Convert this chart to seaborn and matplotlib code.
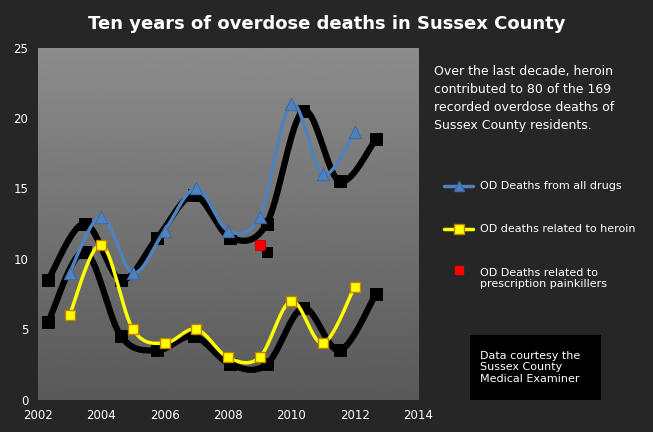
import numpy as np
import pandas as pd
import seaborn as sns
import matplotlib.pyplot as plt

years = [2003, 2004, 2005, 2006, 2007, 2008, 2009, 2010, 2011, 2012]
all_drugs = [9, 13, 9, 12, 15, 12, 13, 21, 16, 19]
heroin = [6, 11, 5, 4, 5, 3, 3, 7, 4, 8]
rx_year = [2009]
rx_deaths = [11]


def smooth(x, y, n=20):
    # catmull-rom curve through the points, like Excel's smoothed line
    x = np.asarray(x, float); y = np.asarray(y, float)
    px = np.r_[x[0], x, x[-1]]; py = np.r_[y[0], y, y[-1]]
    t = np.linspace(0, 1, n)[:, None]
    xs, ys = [], []
    for i in range(1, len(px) - 2):
        for p, out in ((px, xs), (py, ys)):
            p0, p1, p2, p3 = p[i - 1], p[i], p[i + 1], p[i + 2]
            out.append((0.5 * (2 * p1 + (-p0 + p2) * t + (2 * p0 - 5 * p1 + 4 * p2 - p3) * t**2
                               + (-p0 + 3 * p1 - 3 * p2 + p3) * t**3)).ravel())
    return np.concatenate(xs), np.concatenate(ys)


def shadow(x, y):
    x = np.asarray(x, float); y = np.asarray(y, float)
    return 2007.5 + (x - 2007.5) * 1.15, y - 0.5


sns.set_style("white")
fig = plt.figure(figsize=(6.53, 4.32), dpi=100, facecolor="#262626")
ax = fig.add_axes([0.058, 0.075, 0.582, 0.815])
ax.imshow(np.linspace(0.55, 0.35, 256)[:, None], cmap="gray", vmin=0, vmax=1, aspect="auto",
          extent=[2002, 2014, 0, 25], zorder=0)

for ys, col in ((all_drugs, "#4f81bd"), (heroin, "#ffff00")):
    sx, sy = shadow(years, ys)
    cx, cy = smooth(sx, sy)
    ax.plot(cx, cy, color="black", lw=4.5, zorder=2)
    sns.scatterplot(x=sx, y=sy, marker="s", color="black", edgecolor="black", s=70,
                    ax=ax, zorder=2, legend=False)
    cx, cy = smooth(years, ys)
    ax.plot(cx, cy, color=col, lw=2.5, zorder=3)
sx, sy = shadow(rx_year, rx_deaths)
sns.scatterplot(x=sx, y=sy, marker="s", color="black", edgecolor="black", s=60,
                ax=ax, zorder=2, legend=False)

sns.scatterplot(x=years, y=all_drugs, marker="^", color="#4f81bd", edgecolor="#3a6aa8",
                s=80, ax=ax, zorder=4, legend=False)
sns.scatterplot(x=years, y=heroin, marker="s", color="#ffff00", edgecolor="#c08000",
                linewidth=1, s=55, ax=ax, zorder=4, legend=False)
sns.scatterplot(x=rx_year, y=rx_deaths, marker="s", color="#ff0000", edgecolor="#c00000",
                s=55, ax=ax, zorder=4, legend=False)

ax.set_xlim(2002, 2014); ax.set_ylim(0, 25)
ax.set_xticks(range(2002, 2015, 2)); ax.set_yticks(range(0, 26, 5))
ax.tick_params(colors="white", labelsize=8.5)
ax.set_xlabel(""); ax.set_ylabel("")
for s in ax.spines.values():
    s.set_visible(False)

fig.text(0.5, 0.945, "Ten years of overdose deaths in Sussex County", color="white",
         fontsize=13, fontweight="bold", ha="center", va="center")
fig.text(0.665, 0.85, "Over the last decade, heroin\ncontributed to 80 of the 169\nrecorded overdose deaths of\nSussex County residents.",
         color="white", fontsize=9, va="top", linespacing=1.5)

lx = [0.68, 0.725]
for y, col, mk, ec, lab in ((0.57, "#4f81bd", "^", "#3a6aa8", "OD Deaths from all drugs"),
                            (0.47, "#ffff00", "s", "#c08000", "OD deaths related to heroin")):
    fig.add_artist(plt.Line2D(lx, [y, y], color=col, lw=2.5))
    fig.add_artist(plt.Line2D([sum(lx) / 2], [y], marker=mk, color=col, ms=7, markeredgecolor=ec))
    fig.text(0.735, y, lab, color="white", fontsize=8, va="center")
fig.add_artist(plt.Line2D([0.7025], [0.375], marker="s", color="#ff0000", ms=6))
fig.text(0.735, 0.355, "OD Deaths related to\nprescription painkillers", color="white", fontsize=8, va="center")

fig.patches.append(plt.Rectangle((0.72, 0.075), 0.2, 0.15, transform=fig.transFigure,
                                 facecolor="black", edgecolor="none"))
fig.text(0.735, 0.15, "Data courtesy the\nSussex County\nMedical Examiner", color="white",
         fontsize=8, va="center")

fig.savefig("out.png", dpi=100, facecolor=fig.get_facecolor())
